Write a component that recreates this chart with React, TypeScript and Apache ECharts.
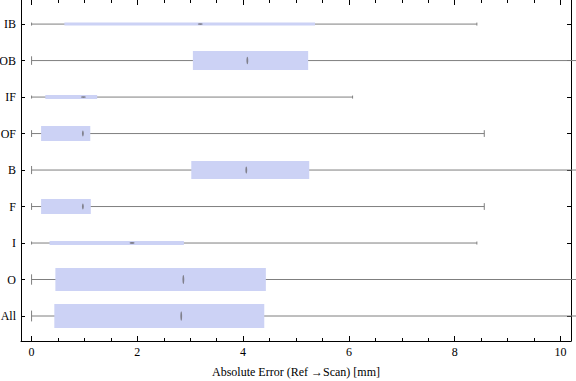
import React, { useEffect, useRef } from "react";
import * as echarts from "echarts";

// categories from bottom (1) to top (9)
const categories = ["All", "O", "I", "F", "B", "OF", "IF", "OB", "IB"];
const whiskerLow = [0, 0, 0, 0, 0, 0, 0, 0, 0];
const q1 = [0.43, 0.45, 0.34, 0.18, 3.02, 0.18, 0.26, 3.05, 0.62];
const median = [2.83, 2.87, 1.9, 0.97, 4.06, 0.97, 0.98, 4.08, 3.19];
const q3 = [4.4, 4.43, 2.88, 1.12, 5.25, 1.11, 1.24, 5.23, 5.36];
const whiskerHigh = [11, 11, 8.42, 8.56, 11, 8.56, 6.07, 11, 8.42];
// relative box thickness (sample weight)
const boxWeight = [24, 23, 4, 15, 18, 15, 4, 19, 3];

const majorTicks = [0, 2, 4, 6, 8, 10];
const minorTicks = [0.5, 1, 1.5, 2.5, 3, 3.5, 4.5, 5, 5.5, 6.5, 7, 7.5, 8.5, 9, 9.5];
const catTicks = [1, 2, 3, 4, 5, 6, 7, 8, 9];

const FONT = "'Liberation Serif', 'DejaVu Serif', serif";

export default function App() {
  const ref = useRef<HTMLDivElement>(null);
  useEffect(() => {
    document.body.style.margin = "0";
    if (!ref.current) return;
    const chart = echarts.init(ref.current, undefined, { renderer: "svg" });
    const data = categories.map((_, i) => [
      i + 1,
      whiskerLow[i],
      q1[i],
      median[i],
      q3[i],
      whiskerHigh[i],
      boxWeight[i],
    ]);
    const xMin = -0.2;
    const xMax = 10.2;
    const yMin = 0.315;
    const yMax = 9.66;
    const lineStyle = { color: "#000", width: 1 };
    const baseX = {
      type: "value",
      min: xMin,
      max: xMax,
      splitLine: { show: false },
      gridIndex: 0,
    };
    const option: any = {
      animation: false,
      grid: {
        left: 21,
        right: 5,
        top: 0,
        bottom: 40,
        containLabel: false,
        outerBoundsMode: "none",
      },
      xAxis: [
        {
          ...baseX,
          position: "bottom",
          axisLine: { show: true, onZero: false, lineStyle },
          axisTick: { show: true, inside: true, length: 5, lineStyle, customValues: majorTicks },
          axisLabel: {
            show: true,
            customValues: majorTicks,
            margin: 5,
            color: "#000",
            fontFamily: FONT,
            fontSize: 12,
          },
          name: "Absolute Error (Ref \u2192Scan) [mm]",
          nameLocation: "middle",
          nameGap: 25,
          nameTextStyle: { color: "#000", fontFamily: FONT, fontSize: 12 },
        },
        {
          ...baseX,
          position: "bottom",
          axisLine: { show: false, onZero: false },
          axisTick: { show: true, inside: true, length: 3, lineStyle, customValues: minorTicks },
          axisLabel: { show: false },
        },
        {
          ...baseX,
          position: "top",
          axisLine: { show: false, onZero: false },
          axisTick: { show: true, inside: true, length: 5, lineStyle, customValues: majorTicks },
          axisLabel: { show: false },
        },
        {
          ...baseX,
          position: "top",
          axisLine: { show: false, onZero: false },
          axisTick: { show: true, inside: true, length: 3, lineStyle, customValues: minorTicks },
          axisLabel: { show: false },
        },
      ],
      yAxis: [
        {
          type: "value",
          min: yMin,
          max: yMax,
          position: "left",
          splitLine: { show: false },
          axisLine: { show: true, onZero: false, lineStyle },
          axisTick: { show: true, inside: true, length: 4, lineStyle, customValues: catTicks },
          axisLabel: {
            show: true,
            customValues: catTicks,
            margin: 5,
            color: "#000",
            fontFamily: FONT,
            fontSize: 12,
            formatter: (v: number) => categories[Math.round(v) - 1] ?? "",
          },
        },
        {
          type: "value",
          min: yMin,
          max: yMax,
          position: "right",
          splitLine: { show: false },
          axisLine: { show: true, onZero: false, lineStyle },
          axisTick: { show: true, inside: true, length: 4, lineStyle, customValues: catTicks },
          axisLabel: { show: false },
        },
      ],
      series: [
        {
          type: "custom",
          xAxisIndex: 0,
          yAxisIndex: 0,
          clip: false,
          encode: { y: 0, x: [1, 2, 3, 4, 5] },
          data,
          renderItem: (params: any, api: any) => {
            const yv = api.value(0);
            const lo = api.coord([api.value(1), yv]);
            const a = api.coord([api.value(2), yv]);
            const m = api.coord([api.value(3), yv]);
            const b = api.coord([api.value(4), yv]);
            const hi = api.coord([api.value(5), yv]);
            const h = api.value(6);
            const cy = lo[1];
            const cap = Math.max(3, h * 0.45);
            const gray = "#7f7f7f";
            const thick = h >= 10;
            return {
              type: "group",
              children: [
                {
                  type: "line",
                  shape: { x1: lo[0], y1: cy, x2: hi[0], y2: cy },
                  style: { stroke: gray, lineWidth: 1 },
                },
                {
                  type: "line",
                  shape: { x1: lo[0], y1: cy - cap / 2, x2: lo[0], y2: cy + cap / 2 },
                  style: { stroke: gray, lineWidth: 1 },
                },
                {
                  type: "line",
                  shape: { x1: hi[0], y1: cy - cap / 2, x2: hi[0], y2: cy + cap / 2 },
                  style: { stroke: gray, lineWidth: 1 },
                },
                {
                  type: "rect",
                  shape: { x: a[0], y: cy - h / 2, width: b[0] - a[0], height: h },
                  style: { fill: "#ccd2f5" },
                },
                {
                  type: "ellipse",
                  shape: thick
                    ? { cx: m[0], cy, rx: 0.9, ry: h * 0.2 }
                    : { cx: m[0], cy, rx: 2.5, ry: 0.9 },
                  style: { fill: "#80808c" },
                },
              ],
            };
          },
        },
      ],
    };
    chart.setOption(option);
    return () => chart.dispose();
  }, []);
  return <div ref={ref} style={{ width: 576, height: 381 }} />;
}
